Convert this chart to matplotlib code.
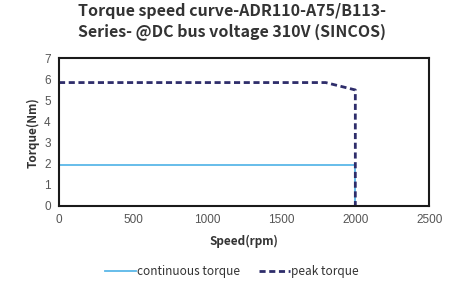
import matplotlib
matplotlib.use("Agg")
import matplotlib.pyplot as plt

plt.rcParams['font.family'] = ['Noto Sans CJK SC', 'DejaVu Sans']

cont_speed = [0, 2000, 2000]
cont_torque = [1.95, 1.95, 0]
peak_speed = [0, 1800, 2000, 2000]
peak_torque = [5.85, 5.85, 5.5, 0]
xticks = [0, 500, 1000, 1500, 2000, 2500]
yticks = [0, 1, 2, 3, 4, 5, 6, 7]

fig = plt.figure(figsize=(4.64, 2.83), dpi=100)
ax = fig.add_axes([59/464, 1-206/283, (429.4-59)/464, (206-58.3)/283])

ax.plot(cont_speed, cont_torque, color='#5BB8E8', lw=1.3, label='continuous torque')
ax.plot(peak_speed, peak_torque, color='#2E2D6B', lw=2.0, ls=(0, (2.2, 1.3)), label='peak torque')

ax.set_xlim(0, 2500)
ax.set_ylim(0, 7)
ax.set_xticks(xticks)
ax.set_yticks(yticks)
ax.tick_params(length=0, labelsize=8.5, labelcolor='#555555', pad=6)
for lab in ax.get_xticklabels() + ax.get_yticklabels():
    lab.set_family('Liberation Sans')
for s in ax.spines.values():
    s.set_linewidth(1.5)
    s.set_color('#1a1a1a')

ax.set_xlabel('Speed(rpm)', fontsize=8.5, fontweight='bold', color='#333333', labelpad=6)
ax.set_ylabel('Torque(Nm)', fontsize=8.5, fontweight='bold', color='#333333', labelpad=3)

fig.text(0.5, 0.99, 'Torque speed curve-ADR110-A75/B113-\nSeries- @DC bus voltage 310V (SINCOS)',
         ha='center', va='top', fontsize=11.5, fontweight='bold', color='#333333', linespacing=1.3)

fig.legend(loc='center', bbox_to_anchor=(0.5, 1-272/283), ncol=2, frameon=False,
           fontsize=8.5, handlelength=2.6, handletextpad=0.1, columnspacing=1.6,
           labelcolor='#333333')

fig.savefig('out.png', dpi=100)
